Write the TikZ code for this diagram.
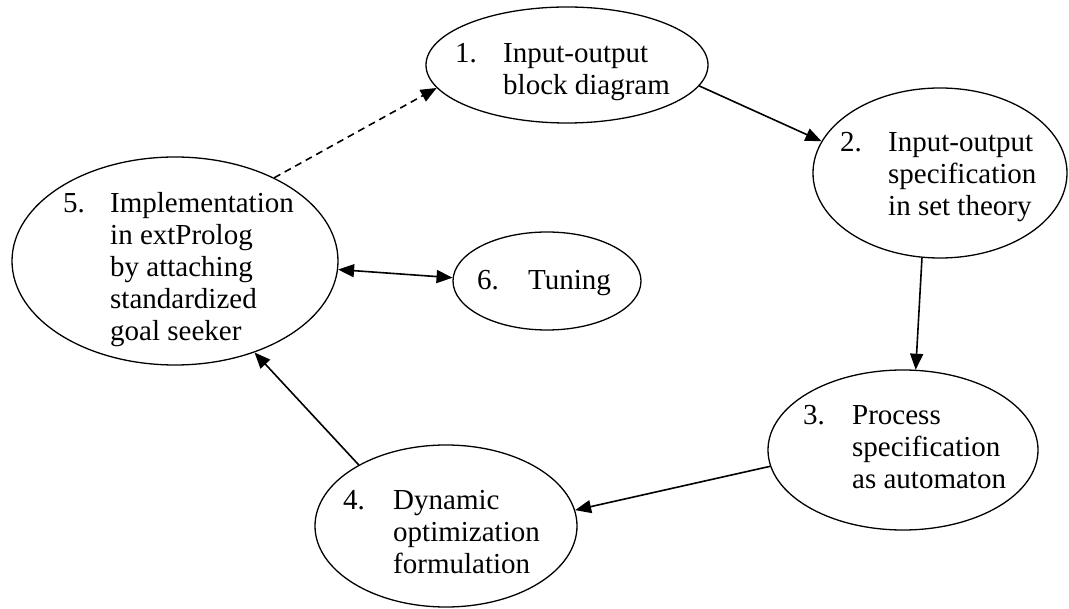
\documentclass[tikz,border=0pt]{standalone}
\usepackage{fontspec}
\setmainfont{Liberation Serif}
\usetikzlibrary{arrows.meta,shapes.geometric}

\tikzset{
  stage/.style={ellipse, draw=black, line width=1.3pt, inner sep=0pt},
  numlbl/.style={anchor=base west, inner sep=0pt, font=\fontsize{29}{32}\selectfont},
  textlbl/.style={anchor=base west, inner sep=0pt, font=\fontsize{29}{32}\selectfont},
  tip/.tip={Triangle[length=16pt,width=13pt]},
  flow/.style={line width=1.6pt, -tip},
  twoway/.style={line width=1.6pt, tip-tip},
  feedback/.style={flow, dash pattern=on 7pt off 5pt},
}
\newcommand{\stagelines}[1]{\begin{tabular}[t]{@{}l@{}}#1\end{tabular}}

\begin{document}
\begin{tikzpicture}[x=1pt, y=-1pt]
  \useasboundingbox (0,0) rectangle (1069,609);

  % stage ellipses
  \node[stage, minimum width=282pt, minimum height=116pt] (s1) at (567,65) {};
  \node[stage, minimum width=254pt, minimum height=170pt] (s2) at (940,173) {};
  \node[stage, minimum width=270pt, minimum height=160pt] (s3) at (903,450) {};
  \node[stage, minimum width=262pt, minimum height=162pt] (s4) at (446,526) {};
  \node[stage, minimum width=326pt, minimum height=208pt] (s5) at (175,261) {};
  \node[stage, minimum width=188pt, minimum height=98pt]  (s6) at (547,281) {};

  % stage numbers and descriptions
  \node[numlbl] (k1) at (455,63) {1.};
  \node[textlbl] (t1) at (503,63) {\stagelines{Input-output\\block diagram}};

  \node[numlbl] (k2) at (840,152) {2.};
  \node[textlbl] (t2) at (888,152) {\stagelines{Input-output\\specification\\in set theory}};

  \node[numlbl] (k3) at (803,425) {3.};
  \node[textlbl] (t3) at (852,425) {\stagelines{Process\\specification\\as automaton}};

  \node[numlbl] (k4) at (343,510) {4.};
  \node[textlbl] (t4) at (393,510) {\stagelines{Dynamic\\optimization\\formulation}};

  \node[numlbl] (k5) at (63,213) {5.};
  \node[textlbl] (t5) at (110,213) {\stagelines{Implementation\\in extProlog\\by attaching\\standardized\\goal seeker}};

  \node[numlbl] (k6) at (477,290) {6.};
  \node[textlbl] (t6) at (528,290) {Tuning};

  % connectors
  \draw[flow] (s1.-9.6) -- (s2.165.3);
  \draw[flow] (s2.258.3) -- (s3.81.5);
  \draw[flow] (s3.187.3) -- (s4.7.8);
  \draw[flow] (s4.145.7) -- (s5.-49.4);
  \draw[feedback] (s5.40) -- (s1.190);
  \draw[twoway] (s5.-3.8) -- (s6.178.8);
\end{tikzpicture}
\end{document}
